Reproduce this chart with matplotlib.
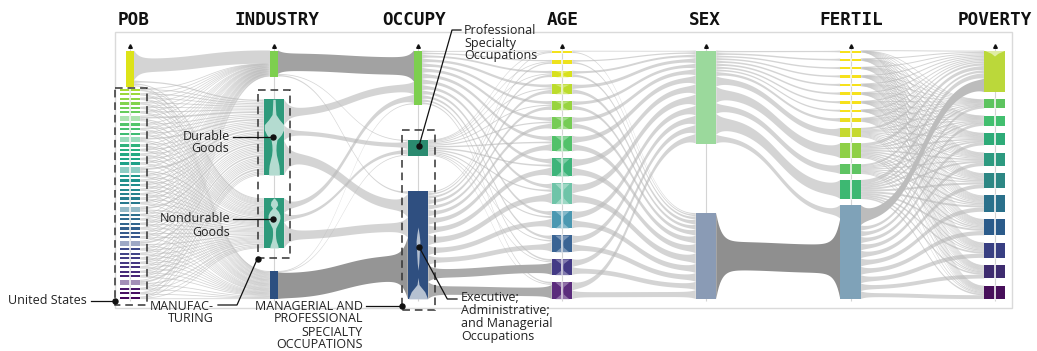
import numpy as np
import matplotlib
matplotlib.use("Agg")
import matplotlib.pyplot as plt
from matplotlib.patches import Rectangle, Polygon
from matplotlib import colors as mcolors

# ---------------------------------------------------------------- data
DIMENSIONS = ["POB", "INDUSTRY", "OCCUPY", "AGE", "SEX", "FERTIL", "POVERTY"]

POB_SIZES = [36,
             2.3, 2.2, 2.4, 2.3, 2.2, 2.3, 5.6,
             2.4, 2.3, 2.2, 5.2,
             2.3, 2.4, 2.2, 2.3, 2.3, 6.0,
             2.2, 2.3, 2.4, 2.3, 2.2, 2.3, 2.4, 5.0,
             2.3, 2.2, 2.3, 2.4, 2.3, 2.2, 5.3,
             2.3, 2.4, 2.2, 2.3, 2.3, 2.2, 2.4, 5.8,
             2.3, 2.2, 2.4]
INDUSTRY_SIZES = [26, 76, 50, 28]
OCCUPY_SIZES = [54, 16, 108]
AGE_SIZES = [2.6, 4.0, 6.6, 10.0, 9.3, 12.0, 15.7, 18.3, 20.6, 17.7, 17.0, 16.0, 17.3]
SEX_SIZES = [93, 86]
FERTIL_SIZES = [2.0, 2.4, 2.3, 2.4, 2.6, 2.7, 2.6, 2.3, 4.0, 9.4, 15.0, 9.7, 19.0, 94.0]
POVERTY_SIZES = [41.6, 9.0, 10.0, 12.4, 13.4, 15.0, 16.3, 16.3, 15.3, 13.3, 13.3]

# flows between neighbouring dimensions (rows: left categories, cols: right categories)
POB_TO_INDUSTRY = [
    [22, 2.0, 1.5, 1.0],
    [0.5, 1.4, 0.9, 0.5], [0.4, 1.6, 1.0, 0.4], [0.6, 1.2, 1.1, 0.6], [0.3, 1.5, 0.8, 0.5],
    [0.5, 1.3, 1.0, 0.7], [0.4, 1.7, 0.9, 0.4], [0.9, 2.8, 1.8, 1.0], [0.5, 1.5, 1.0, 0.5],
    [0.3, 1.4, 1.2, 0.6], [0.4, 1.6, 0.8, 0.5], [1.0, 2.5, 1.6, 0.9], [0.5, 1.3, 1.0, 0.6],
    [0.4, 1.6, 1.1, 0.4], [0.3, 1.5, 0.9, 0.5], [0.6, 1.4, 1.0, 0.6], [0.4, 1.2, 1.2, 0.5],
    [1.1, 3.0, 1.9, 1.0], [0.3, 1.5, 1.0, 0.6], [0.5, 1.4, 0.9, 0.5], [0.4, 1.7, 1.1, 0.4],
    [0.3, 1.3, 1.0, 0.7], [0.5, 1.5, 0.8, 0.5], [0.4, 1.6, 1.2, 0.6], [0.6, 1.2, 1.0, 0.4],
    [0.8, 2.6, 1.7, 1.1], [0.4, 1.5, 1.0, 0.5], [0.3, 1.4, 1.1, 0.6], [0.5, 1.6, 0.9, 0.5],
    [0.4, 1.3, 1.0, 0.7], [0.6, 1.5, 1.2, 0.4], [0.3, 1.4, 0.9, 0.5], [1.0, 2.7, 1.6, 0.9],
    [0.5, 1.5, 1.0, 0.5], [0.4, 1.3, 1.1, 0.6], [0.3, 1.6, 0.9, 0.4], [0.5, 1.4, 1.0, 0.6],
    [0.4, 1.2, 1.2, 0.5], [0.6, 1.5, 0.8, 0.7], [0.3, 1.7, 1.0, 0.5], [1.2, 2.9, 1.8, 1.2],
    [0.5, 1.4, 1.0, 0.6], [0.4, 1.5, 1.1, 0.5], [0.6, 1.3, 0.9, 0.7],
]
INDUSTRY_TO_OCCUPY = [
    [29, 1.2, 2.0],
    [12, 7.0, 16],
    [8, 5.0, 14],
    [1.2, 0.8, 42],
]
OCCUPY_TO_AGE = [
    [1.5, 2.0, 3.0, 4.0, 4.0, 4.5, 5.0, 5.0, 4.5, 4.0, 3.5, 2.5, 2.0],
    [0.8, 1.0, 1.2, 1.6, 1.6, 2.0, 2.2, 2.4, 2.2, 2.0, 1.6, 1.4, 1.2],
    [1.5, 2.0, 3.0, 4.5, 4.5, 5.5, 7.0, 8.0, 9.0, 8.0, 8.0, 14.0, 14.0],
]
AGE_TO_SEX = [
    [1.3, 1.2], [2.0, 1.9], [3.3, 3.1], [5.0, 4.8], [4.7, 4.5], [6.0, 5.8], [7.8, 7.6],
    [9.0, 8.9], [10.2, 10.0], [8.8, 8.6], [8.4, 8.2], [8.0, 7.8], [8.6, 8.4],
]
SEX_TO_FERTIL = [
    [2.0, 2.4, 2.3, 2.4, 2.6, 2.7, 2.6, 2.3, 4.0, 9.4, 15.0, 9.7, 19.0, 8.0],
    [0, 0, 0, 0, 0, 0, 0, 0, 0, 0, 0, 0, 0, 47.0],
]
FERTIL_TO_POVERTY = [
    [1.6, 1.0, 1.0, 1.0, 1.0, 1.1, 1.1, 1.0, 1.0, 1.0, 1.0],
    [1.7, 1.0, 1.1, 1.0, 1.1, 1.1, 1.1, 1.1, 1.0, 1.0, 1.0],
    [1.6, 1.1, 1.0, 1.1, 1.1, 1.0, 1.1, 1.1, 1.1, 1.0, 1.0],
    [1.7, 1.0, 1.1, 1.1, 1.0, 1.1, 1.0, 1.1, 1.0, 1.1, 1.0],
    [1.8, 1.1, 1.1, 1.1, 1.1, 1.1, 1.1, 1.1, 1.1, 1.0, 1.0],
    [1.8, 1.1, 1.1, 1.1, 1.2, 1.1, 1.2, 1.1, 1.1, 1.1, 1.0],
    [1.8, 1.1, 1.1, 1.1, 1.1, 1.2, 1.1, 1.1, 1.1, 1.0, 1.1],
    [1.7, 1.0, 1.1, 1.1, 1.1, 1.1, 1.1, 1.0, 1.0, 1.0, 1.0],
    [2.2, 1.3, 1.3, 1.4, 1.4, 1.4, 1.4, 1.4, 1.3, 1.3, 1.3],
    [3.5, 1.6, 1.6, 1.7, 1.7, 1.7, 1.7, 1.6, 1.5, 1.4, 1.4],
    [5.5, 2.2, 2.3, 2.4, 2.4, 2.5, 2.5, 2.4, 2.2, 2.1, 2.0],
    [3.6, 1.6, 1.6, 1.7, 1.7, 1.8, 1.7, 1.6, 1.5, 1.5, 1.4],
    [7.0, 2.8, 2.9, 3.0, 3.1, 3.2, 3.2, 3.1, 2.9, 2.7, 2.6],
    [17.0, 4.5, 5.0, 5.5, 6.0, 6.5, 7.0, 7.0, 7.0, 6.5, 6.5],
]

# relative within-node distribution glyphs (top -> bottom)
DURABLE_GLYPH = [0.12, 0.14, 0.16, 0.2, 0.55, 1.0, 1.0, 0.75, 0.3, 0.22, 0.2, 0.25, 0.38, 0.5, 0.55, 0.55]
NONDURABLE_GLYPH = [0.05, 0.32, 0.38, 0.15, 0.45, 0.6, 0.62, 0.52, 0.35, 0.18, 0.15, 0.15, 0.18, 0.25, 0.38, 0.45]
EXECUTIVE_GLYPH = [0, 0, 0, 0, 0, 0, 0.12, 0.2, 0.15, 0.12, 0.08, 0, 0, 0.1, 0.7, 1.0]
AGE_GLYPH = [0.75, 0.45, 0.15, 0.1, 0.1, 0.15, 0.45, 0.75]
POVERTY_TOP_GLYPH = [1.0, 0.35, 0, 0, 0, 0, 0, 0, 0, 0, 0, 0, 0, 0, 0, 0]

SIZES = [POB_SIZES, INDUSTRY_SIZES, OCCUPY_SIZES, AGE_SIZES, SEX_SIZES, FERTIL_SIZES, POVERTY_SIZES]
FLOWS = [POB_TO_INDUSTRY, INDUSTRY_TO_OCCUPY, OCCUPY_TO_AGE, AGE_TO_SEX, SEX_TO_FERTIL, FERTIL_TO_POVERTY]

# ---------------------------------------------------------------- style / layout
W, H = 1037, 351
AX_X = [130, 274, 418, 562, 706, 850.5, 994.5]
TITLE_X = [134, 277, 414.5, 563, 705, 851, 995]
TOP, BOTTOM = 50.5, 299.0
HW, HW_NARROW = 10.2, 4.0
LINK_SCALE = 0.6
NARROW = {(0, 0), (1, 0), (1, 3), (2, 0)}
HIGHLIGHT = {(1, 0, 0): '#a2a2a2', (1, 3, 2): '#959595', (2, 2, 11): '#ababab',
             (2, 2, 12): '#ababab', (4, 1, 13): '#8f8f8f', (5, 13, 0): '#bcbcbc'}
LIGHT_LINK = '#b8b8b8'

vir = plt.get_cmap('viridis')


def lighten(c, f):
    r = np.array(mcolors.to_rgb(c))
    return tuple(r + (1 - r) * f)


POB_FADED = {7, 11, 17, 25, 32, 40}
pob_cols = ['#dde318'] + [mcolors.to_hex(vir(v)) for v in np.linspace(0.87, 0.02, len(POB_SIZES) - 1)]
pob_cols = [lighten(c, 0.5) if i in POB_FADED else c for i, c in enumerate(pob_cols)]
COLORS = [
    pob_cols,
    ['#7dcf4f', '#2e9a7b', '#2e9a7b', '#2c4f80'],
    ['#7dcf4f', '#2a8a6f', '#2f4f80'],
    ['#f3e21c', '#eee21c', '#d8e11c', '#bcdc2c', '#98d43f', '#76cc55', '#52c16a', '#3db47a',
     '#6fc4a8', '#4b98b1', '#3a6494', '#433a85', '#5b2c7c'],
    ['#9bd99c', '#8a9bb5'],
    ['#f6e11c'] * 8 + ['#eadd22', '#c6d92f', '#8fd046', '#5fc463', '#3db872', '#7fa2b8'],
    ['#bbd83a', '#5dc45f', '#42bf6f', '#2eab78', '#2d9a80', '#2d8784', '#2a708b', '#2b5b8a',
     '#383f82', '#3e2c6f', '#470f5a'],
]


def layout(sizes):
    s = np.asarray(sizes, float)
    gap = (BOTTOM - TOP - s.sum()) / (len(s) - 1)
    y0 = TOP + np.concatenate([[0], np.cumsum(s[:-1] + gap)])
    return y0, y0 + s


POS = [layout(s) for s in SIZES]


def hw(a, i):
    return HW_NARROW if (a, i) in NARROW else HW


def ribbon(x0, x1, ys, yt, ws, wm, wt, k=5.0, n=140):
    t = np.linspace(0, 1, n)
    xm = (x0 + x1) / 2
    x = (1 - t) ** 3 * x0 + 3 * (1 - t) ** 2 * t * xm + 3 * (1 - t) * t ** 2 * xm + t ** 3 * x1
    y = ys + (yt - ys) * (3 * t ** 2 - 2 * t ** 3)
    w = wm + (ws - wm) * np.exp(-(x - x0) / k) + (wt - wm) * np.exp(-(x1 - x) / k)
    return np.column_stack([np.r_[x, x[::-1]], np.r_[y - w / 2, (y + w / 2)[::-1]]])


fig = plt.figure(figsize=(W / 100, H / 100), dpi=100)
ax = fig.add_axes([0, 0, 1, 1])
ax.set_xlim(0, W)
ax.set_ylim(H, 0)
ax.axis('off')

# panel frame
ax.add_patch(Rectangle((115, 32), 897, 276, fill=False, ec='#dadada', lw=1.0, zorder=0))

# links
for p, M in enumerate(FLOWS):
    M = np.asarray(M, float)
    sy0, sy1 = POS[p]
    ty0, ty1 = POS[p + 1]
    sc = (sy0 + sy1) / 2
    tc = (ty0 + ty1) / 2
    src_seg = {}
    for i in range(M.shape[0]):
        js = [j for j in np.argsort(tc) if M[i, j] > 0]
        tot = M[i, js].sum()
        y = sy0[i]
        for j in js:
            h = (sy1[i] - sy0[i]) * M[i, j] / tot
            src_seg[(i, j)] = (y + h / 2, h)
            y += h
    tgt_seg = {}
    for j in range(M.shape[1]):
        iis = [i for i in np.argsort(sc) if M[i, j] > 0]
        tot = M[iis, j].sum()
        y = ty0[j]
        for i in iis:
            h = (ty1[j] - ty0[j]) * M[i, j] / tot
            tgt_seg[(i, j)] = (y + h / 2, h)
            y += h
    for (i, j), (ys, ws) in src_seg.items():
        yt, wt = tgt_seg[(i, j)]
        wm = max(M[i, j] * LINK_SCALE, 0.8)
        x0 = AX_X[p] + hw(p, i)
        x1 = AX_X[p + 1] - hw(p + 1, j)
        key = (p, i, j)
        if key in HIGHLIGHT:
            col, alpha, z = HIGHLIGHT[key], 1.0, 2
        else:
            col, alpha, z = LIGHT_LINK, 0.6, 1
        ax.add_patch(Polygon(ribbon(x0, x1, ys, yt, ws, wm, wt), closed=True,
                             fc=col, ec='none', alpha=alpha, zorder=z, lw=0))

# axis lines and markers
ax.vlines(AX_X, 47, 301, color='#d4d4d4', lw=0.8, zorder=3)
ax.plot(AX_X, [46] * len(AX_X), ls='none', marker='^', ms=2.6, color='#111111', zorder=6)

# nodes
SPLIT_AXES = {0, 3, 5, 6}
NO_SPLIT = {(6, 0), (5, 13)}
for a, (y0, y1) in enumerate(POS):
    for i in range(len(y0)):
        h = hw(a, i)
        ax.add_patch(Rectangle((AX_X[a] - h, y0[i]), 2 * h, y1[i] - y0[i],
                               fc=COLORS[a][i], ec='none', zorder=4))
        if a in SPLIT_AXES and (a, i) not in NARROW and (a, i) not in NO_SPLIT:
            ax.plot([AX_X[a]] * 2, [y0[i], y1[i]], color='#f4f4f4', lw=1.2, zorder=5)


def glyph(a, i, prof, light=0.72, alpha=0.9):
    y0, y1 = POS[a][0][i], POS[a][1][i]
    prof = np.asarray(prof, float)
    yy = np.linspace(y0, y1, len(prof))
    yf = np.linspace(y0, y1, 200)
    pf = np.interp(yf, yy, prof) * (HW - 0.5)
    ax.fill_betweenx(yf, AX_X[a] - pf, AX_X[a] + pf, color=lighten(COLORS[a][i], light),
                     lw=0, zorder=5, alpha=alpha)


glyph(1, 1, DURABLE_GLYPH)
glyph(1, 2, NONDURABLE_GLYPH)
glyph(2, 2, EXECUTIVE_GLYPH)
glyph(6, 0, POVERTY_TOP_GLYPH, light=0.6)
for i in range(2, len(AGE_SIZES)):
    glyph(3, i, AGE_GLYPH, light=0.6, alpha=0.55)

# titles
for x, name in zip(TITLE_X, DIMENSIONS):
    ax.text(x, 20, name, ha='center', va='center', fontsize=12.7, fontweight='bold',
            family='DejaVu Sans Mono', color='#111111')

# selection boxes
for (x, y, w, h) in [(115, 87.5, 32, 217.5), (258, 89.5, 32, 168.5), (401.5, 130, 33, 179.5)]:
    ax.add_patch(Rectangle((x, y), w, h, fill=False, ec='#333333', lw=1.1,
                           ls=(0, (5, 3.2)), zorder=6))

# annotations
AFONT = dict(family='Open Sans', fontsize=9, color='#222222', zorder=7, linespacing=1.0)
LK = dict(color='#111111', lw=0.9, zorder=7)


def dot(x, y):
    ax.plot(x, y, 'o', ms=3.6, color='#111111', zorder=8)


ax.text(87, 300, "United States", ha='right', va='center', **AFONT)
ax.plot([91, 115], [300.5, 300.5], **LK); dot(115, 300.5)

ax.text(229.5, 142.5, "Durable\nGoods", ha='right', va='center', multialignment='right', **AFONT)
ax.plot([233, 273], [137, 137], **LK); dot(273, 137)

ax.text(230, 225.5, "Nondurable\nGoods", ha='right', va='center', multialignment='right', **AFONT)
ax.plot([233, 273], [219, 219], **LK); dot(273, 219)

ax.text(214, 312.5, "MANUFAC-\nTURING", ha='right', va='center', multialignment='right', **AFONT)
ax.plot([218, 237, 257.5], [305, 305, 258.5], **LK); dot(257.5, 258.5)

ax.text(363, 325.5, "MANAGERIAL AND\nPROFESSIONAL\nSPECIALTY\nOCCUPATIONS", ha='right',
        va='center', multialignment='right', **AFONT)
ax.plot([366, 401.5], [306, 306], **LK); dot(401.5, 306)

ax.text(464, 43, "Professional\nSpecialty\nOccupations", ha='left', va='center', **AFONT)
ax.plot([419, 452, 461], [146, 30, 30], **LK); dot(419, 146)

ax.text(461, 317, "Executive;\nAdministrative;\nand Managerial\nOccupations", ha='left',
        va='center', **AFONT)
ax.plot([419.3, 447.3, 457], [247.3, 299, 299], **LK); dot(419.3, 247.3)

fig.savefig('out.png', dpi=100)
